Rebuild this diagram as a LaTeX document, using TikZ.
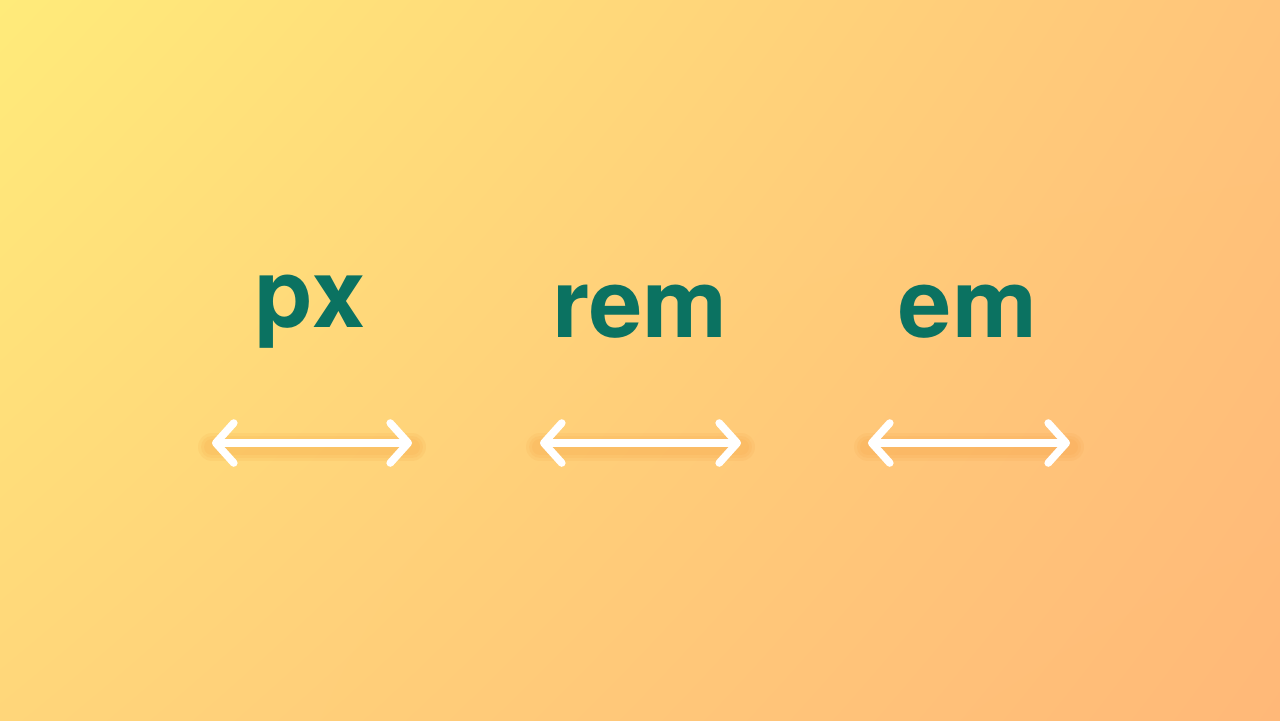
\documentclass[tikz,border=0pt]{standalone}
\usepackage{fontspec}
\setmainfont{TeX Gyre Heros}
\usepackage{xcolor}
\usetikzlibrary{arrows.meta,positioning,shadings}
\definecolor{bgtl}{HTML}{FFEB7A}
\definecolor{bgtr}{HTML}{FFC47A}
\definecolor{bgbl}{HTML}{FFD67A}
\definecolor{bgbr}{HTML}{FFB878}
\definecolor{unitgreen}{HTML}{0B7261}
\definecolor{glow}{HTML}{F5A040}
\tikzset{
  unit/.style={text=unitgreen, font=\fontsize{136}{136}\selectfont\bfseries, inner sep=0pt},
  span/.style={white, line width=0.38cm, line cap=round,
    {Straight Barb[length=0.9cm, width=2.0cm, line cap=round, line join=round]}-{Straight Barb[length=0.9cm, width=2.0cm, line cap=round, line join=round]}},
  spanglow/.style={glow, opacity=0.12, line cap=round, line width=#1},
}
\begin{document}
\begin{tikzpicture}[x=0.05cm, y=-0.05cm]
    \shade[upper left=bgtl, upper right=bgtr, lower left=bgbl, lower right=bgbr] (0,0) rectangle (1280,720);
    \useasboundingbox (0,0) rectangle (1280,720);

    \node[unit] (px) at (310,312) {px};
    \node[unit] (rem) at (640,312) {rem};
    \node[unit] (em) at (968,312) {em};

    \coordinate (pxl) at (212,443);  \coordinate (pxr) at (412,443);
    \coordinate (reml) at (540,443); \coordinate (remr) at (741,443);
    \coordinate (eml) at (868,443);  \coordinate (emr) at (1070,443);

    % soft glow under each arrow
    \foreach \l/\r in {pxl/pxr, reml/remr, eml/emr} {
        \foreach \w in {1.4,1.1,0.8} {
            \draw[spanglow=\w cm] ([yshift=-0.2cm]\l) -- ([yshift=-0.2cm]\r);
        }
        \draw[span] (\l) -- (\r);
    }
\end{tikzpicture}
\end{document}
